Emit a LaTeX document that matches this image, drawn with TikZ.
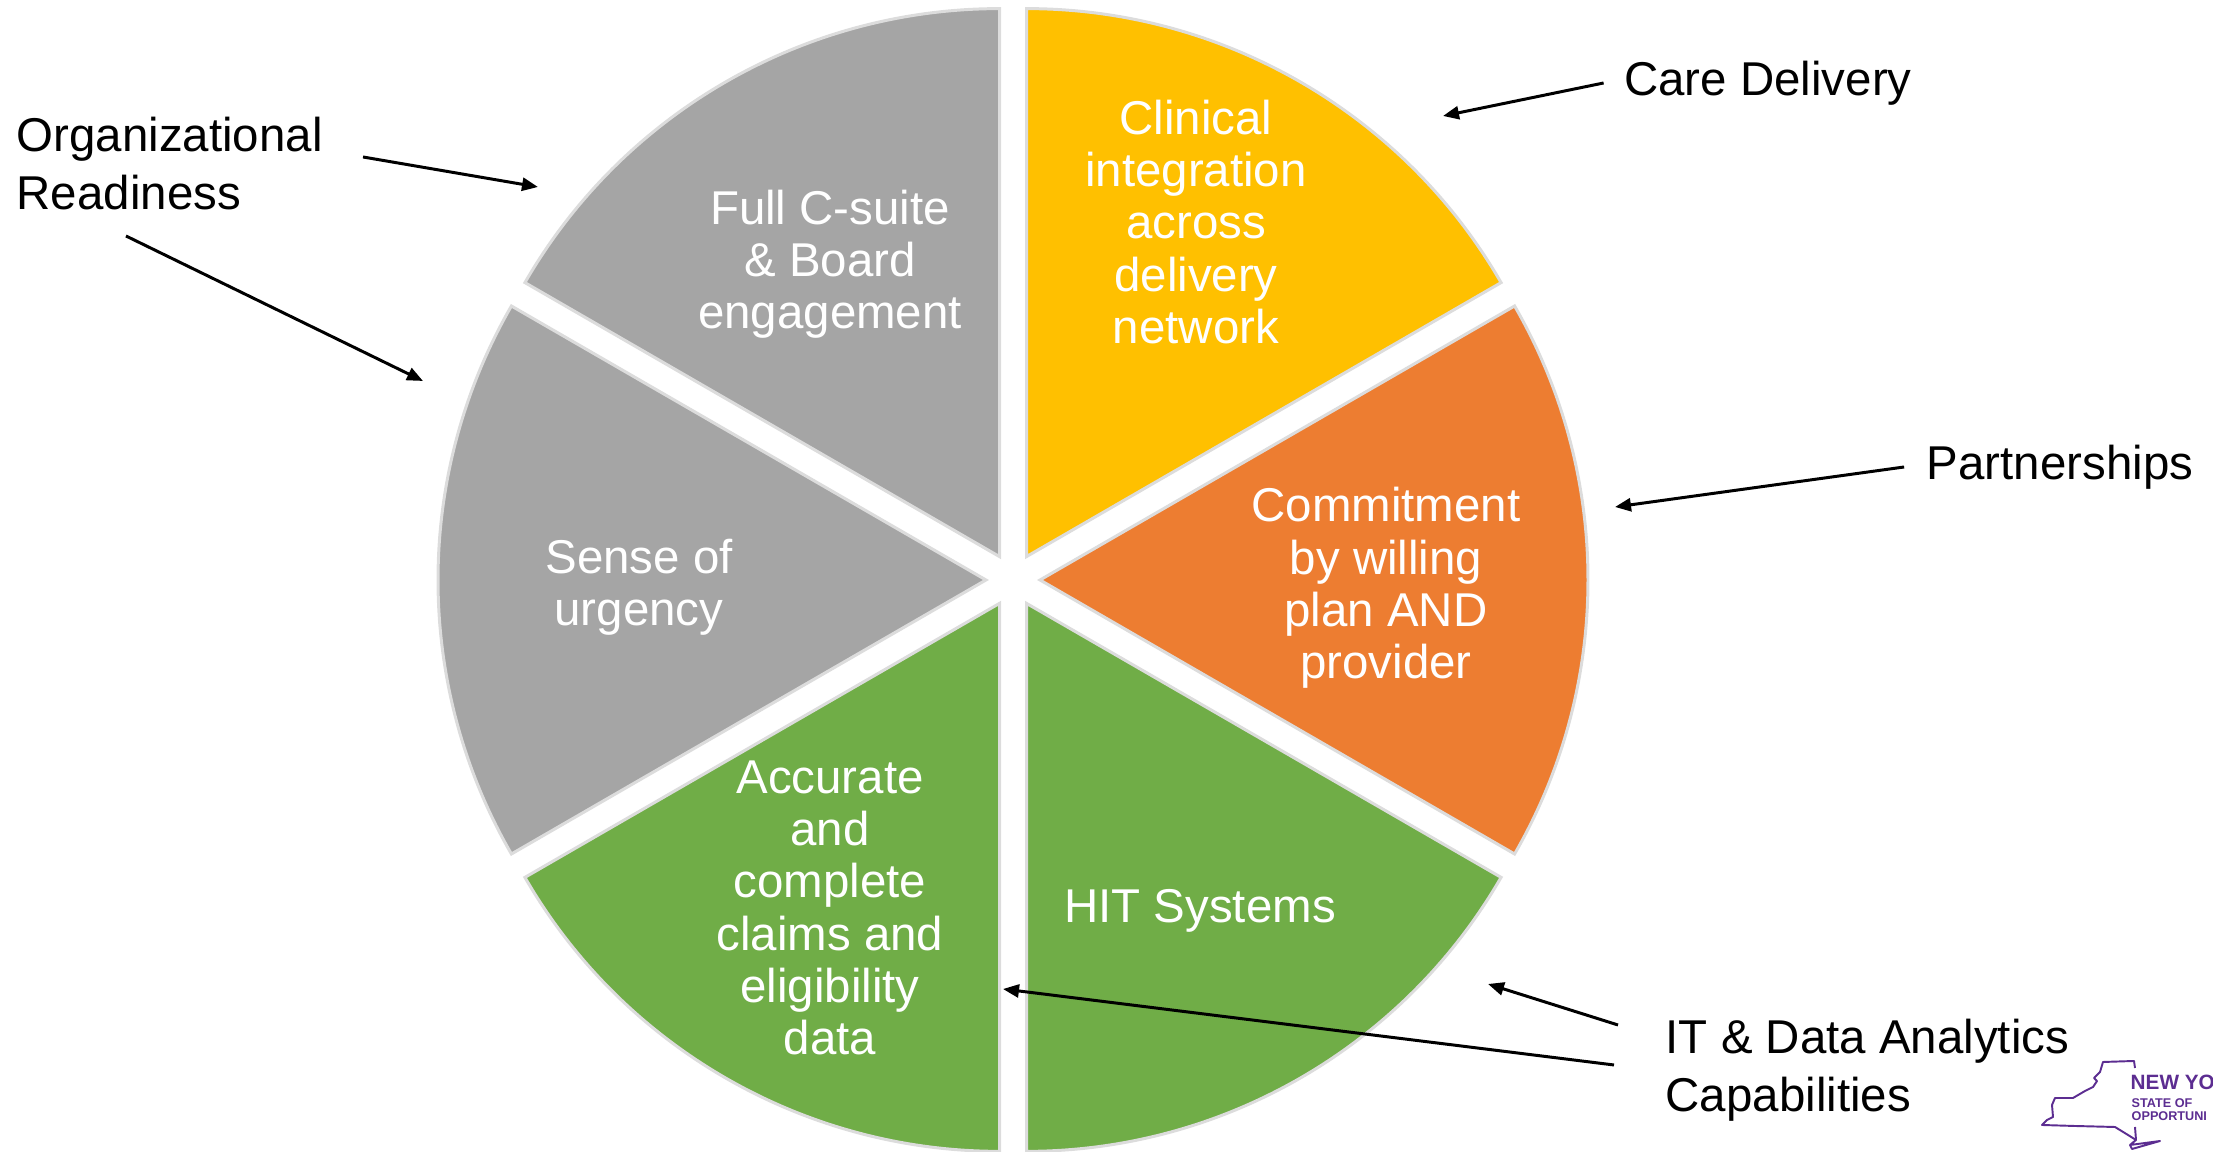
\documentclass[tikz,border=0pt]{standalone}
\usepackage{fontspec}
\setmainfont{Liberation Sans}
\usepackage{tikz}
\usetikzlibrary{arrows.meta}

\definecolor{piegray}{HTML}{A5A5A5}
\definecolor{pieyellow}{HTML}{FFC000}
\definecolor{pieorange}{HTML}{ED7D31}
\definecolor{piegreen}{HTML}{70AD47}
\definecolor{pieedge}{HTML}{DCDCDC}
\definecolor{nypurple}{RGB}{92,45,145}

% colour, start angle, end angle
\newcommand{\drawslice}[3]{%
  \draw [slice, fill=#1] ([shift={({(#2+#3)/2}:.27)}]c) -- ++(#2:5.48) arc (#2:#3:5.48) -- cycle;}

\begin{document}
\begin{tikzpicture}[
    slice/.style={draw=pieedge, line width=.85pt},
    inner/.style={text=white, align=center, inner sep=0pt, font=\fontsize{13.5}{14.85}\selectfont},
    outer/.style={text=black, inner sep=0pt, font=\fontsize{13.5}{16.5}\selectfont},
    pointer/.style={-{Triangle[length=.16cm, width=.13cm]}, line width=.85pt},
    logotext/.style={nypurple, anchor=base west, inner sep=0pt}
  ]
    \useasboundingbox (0,0) rectangle (22.13,11.52);
    \coordinate (c) at (10.13,5.72);

    \drawslice{pieyellow}{30}{90}
    \drawslice{piegray}{90}{150}
    \drawslice{piegray}{150}{210}
    \drawslice{piegreen}{210}{270}
    \drawslice{piegreen}{270}{330}
    \drawslice{pieorange}{-30}{30}

    \node [inner] (clinical) at (11.96,9.30) {Clinical\\integration\\across\\delivery\\network};
    \node [inner] (fullc) at (8.30,8.88) {Full C-suite\\\& Board\\engagement};
    \node [inner] (urgency) at (6.39,5.65) {Sense of\\urgency};
    \node [inner] (commit) at (13.86,5.64) {Commitment\\by willing\\plan AND\\provider};
    \node [inner] (hit) at (12.00,2.41) {HIT Systems};
    \node [inner] (claims) at (8.30,2.44) {Accurate\\and\\complete\\claims and\\eligibility\\data};

    \node [outer, anchor=west, align=left] (org) at (0.16,9.88) {Organizational\\Readiness};
    \node [outer] (care) at (17.68,10.69) {Care Delivery};
    \node [outer] (partner) at (20.60,6.85) {Partnerships};
    \node [outer, anchor=west, align=left] (itdata) at (16.65,0.82) {IT \& Data Analytics\\Capabilities};

    \coordinate (orgA) at (3.63,9.95);
    \coordinate (orgB) at (1.26,9.16);
    \coordinate (fullcTip) at (5.38,9.65);
    \coordinate (urgencyTip) at (4.23,7.71);
    \coordinate (clinicalTip) at (14.43,10.36);
    \coordinate (commitTip) at (16.15,6.45);
    \coordinate (itA) at (16.18,1.27);
    \coordinate (itB) at (16.14,0.87);
    \coordinate (hitTip) at (14.88,1.68);
    \coordinate (claimsTip) at (10.03,1.63);

    \draw [pointer] (orgA) -- (fullcTip);
    \draw [pointer] (orgB) -- (urgencyTip);
    \draw [pointer] ([xshift=-.2cm]care.west) -- (clinicalTip);
    \draw [pointer] ([xshift=-.22cm]partner.west) -- (commitTip);
    \draw [pointer] (itA) -- (hitTip);
    \draw [pointer] (itB) -- (claimsTip);

    % state logo at the page corner
    \draw [nypurple, line width=.55pt, line join=round]
      (21.35,.84) -- (21.34,.91) -- (21.03,.90) -- (21.00,.80) -- (20.94,.74) -- (20.97,.71)
      -- (20.93,.65) -- (20.85,.61) -- (20.73,.54) -- (20.55,.54) -- (20.52,.47) -- (20.53,.35)
      -- (20.47,.32) -- (20.42,.27) -- (20.75,.26) -- (21.15,.25) -- (21.28,.17) -- (21.36,.12);
    \draw [nypurple, line width=.55pt, line join=round]
      (21.35,.25) -- (21.36,.12) -- (21.30,.07) -- (21.60,.11) -- (21.32,.03) -- (21.30,.07);
    \node [logotext, font=\bfseries\fontsize{5.9}{6}\selectfont] (nyname) at (21.30,.62) {NEW YO};
    \node [logotext, font=\bfseries\fontsize{3.6}{4}\selectfont] (nystate) at (21.31,.44) {STATE OF};
    \node [logotext, font=\bfseries\fontsize{3.6}{4}\selectfont] (nyopp) at (21.31,.31) {OPPORTUNI};
\end{tikzpicture}
\end{document}
